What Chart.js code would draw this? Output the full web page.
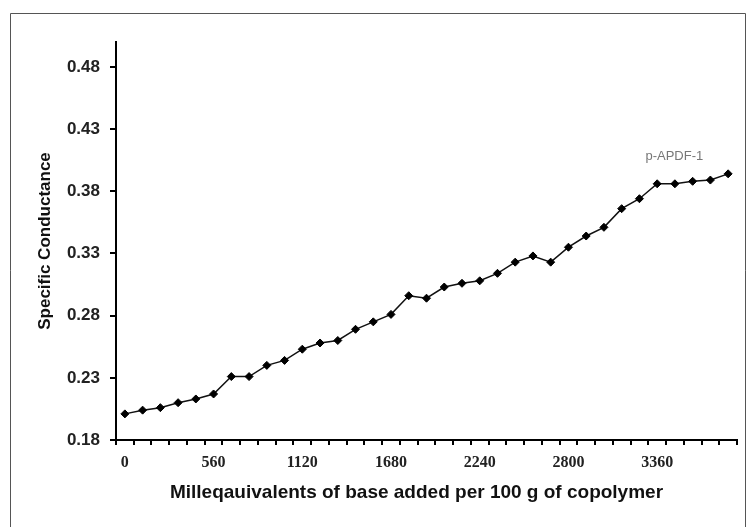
<!DOCTYPE html>
<html>
<head>
<meta charset="utf-8">
<script src="https://cdn.jsdelivr.net/npm/chart.js@4"></script>
<style>
  html, body { margin: 0; padding: 0; background: #fff; }
  #wrap { width: 748px; height: 527px; position: relative; }
</style>
</head>
<body>
<div id="wrap"><canvas id="c" width="748" height="527"></canvas></div>
<script>
// Base added (meq per 100 g of copolymer), one reading every 112
const categories = [0, 112, 224, 336, 448, 560, 672, 784, 896, 1008,
  1120, 1232, 1344, 1456, 1568, 1680, 1792, 1904, 2016, 2128,
  2240, 2352, 2464, 2576, 2688, 2800, 2912, 3024, 3136, 3248,
  3360, 3472, 3584, 3696, 3808];

// Specific conductance readings for p-APDF-1
const conductance = [0.201, 0.204, 0.206, 0.210, 0.213, 0.217, 0.231, 0.231, 0.240, 0.244,
  0.253, 0.258, 0.260, 0.269, 0.275, 0.281, 0.296, 0.294, 0.303, 0.306,
  0.308, 0.314, 0.323, 0.328, 0.323, 0.335, 0.344, 0.351, 0.366, 0.374,
  0.386, 0.386, 0.388, 0.389, 0.394];

const seriesName = 'p-APDF-1';
const xTitle = 'Milleqauivalents of base added per 100 g of copolymer';
const yTitle = 'Specific Conductance';
const xTickLabels = ['0', '560', '1120', '1680', '2240', '2800', '3360'];
const yTicks = [0.18, 0.23, 0.28, 0.33, 0.38, 0.43, 0.48];

// Thin frame around the whole figure
const framePlugin = {
  id: 'frame',
  beforeDraw(chart) {
    const ctx = chart.ctx;
    ctx.save();
    ctx.fillStyle = '#fff';
    ctx.fillRect(0, 0, chart.width, chart.height);
    ctx.strokeStyle = '#555';
    ctx.lineWidth = 1;
    ctx.beginPath();
    ctx.moveTo(10.5, chart.height + 2);
    ctx.lineTo(10.5, 13.5);
    ctx.lineTo(745.5, 13.5);
    ctx.lineTo(745.5, chart.height + 2);
    ctx.stroke();
    ctx.restore();
  }
};

// Series name beside the upper end of the curve, and the x-axis caption
// (set slightly left of the plot centre)
const labelsPlugin = {
  id: 'labels',
  afterDatasetsDraw(chart) {
    const xs = chart.scales.x, ys = chart.scales.y;
    const ctx = chart.ctx;
    ctx.save();
    ctx.textAlign = 'center';
    ctx.textBaseline = 'middle';
    ctx.font = '13px "Liberation Sans", Arial, sans-serif';
    ctx.fillStyle = '#777';
    ctx.fillText(seriesName, xs.getPixelForValue(30.97), ys.getPixelForValue(0.408));
    ctx.font = 'bold 19px "Liberation Sans", Arial, sans-serif';
    ctx.fillStyle = '#111';
    ctx.fillText(xTitle, (xs.left + xs.right) / 2 - 10, xs.bottom - 34);
    ctx.restore();
  }
};

new Chart(document.getElementById('c'), {
  type: 'line',
  data: {
    labels: categories.map(String),
    datasets: [{
      label: seriesName,
      data: conductance,
      borderColor: '#111',
      borderWidth: 1.5,
      pointStyle: 'rectRot',
      pointRadius: 4,
      pointBackgroundColor: '#000',
      pointBorderColor: '#000',
      pointBorderWidth: 1,
      tension: 0,
      fill: false
    }]
  },
  options: {
    responsive: false,
    animation: false,
    layout: { padding: { left: 0, right: 11, top: 42, bottom: 0 } },
    plugins: {
      legend: { display: false },
      tooltip: { enabled: false }
    },
    scales: {
      x: {
        type: 'category',
        offset: true,
        grid: {
          offset: true,
          drawOnChartArea: false,
          drawTicks: true,
          tickLength: 5,
          color: '#000',
          lineWidth: 2
        },
        border: { display: true, color: '#000', width: 2 },
        ticks: {
          autoSkip: false,
          maxRotation: 0,
          minRotation: 0,
          padding: 8,
          color: '#222',
          font: { family: '"Liberation Serif", "Times New Roman", serif', size: 16, weight: 'bold' },
          callback(value, index) {
            const lbl = String(categories[index]);
            return xTickLabels.includes(lbl) ? lbl : '';
          }
        },
        title: { display: false },
        afterFit(scale) { scale.height = 87; }
      },
      y: {
        type: 'linear',
        min: 0.18,
        max: 0.5,
        afterBuildTicks(scale) {
          scale.ticks = yTicks.map(v => ({ value: v }));
        },
        grid: {
          drawOnChartArea: false,
          drawTicks: true,
          tickLength: 6,
          color: '#000',
          lineWidth: 2
        },
        border: { display: true, color: '#000', width: 2 },
        ticks: {
          padding: 10,
          color: '#222',
          font: { family: '"Liberation Sans", Arial, sans-serif', size: 17, weight: 'bold' },
          callback(value) { return Number(value).toFixed(2); }
        },
        title: {
          display: true,
          text: yTitle,
          color: '#111',
          font: { family: '"Liberation Sans", Arial, sans-serif', size: 17, weight: 'bold' },
          padding: { top: 35, bottom: 0 }
        },
        afterFit(scale) { scale.width = 116; }
      }
    }
  },
  plugins: [framePlugin, labelsPlugin]
});
</script>
</body>
</html>
